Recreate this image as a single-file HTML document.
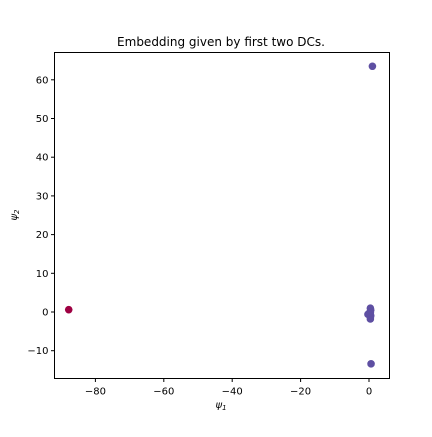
<!DOCTYPE html>
<html><head><meta charset="utf-8"><style>
body{margin:0;background:#fff;font-family:"Liberation Sans","DejaVu Sans",sans-serif}
svg text{font-family:"DejaVu Sans","Liberation Sans",sans-serif}
</style></head><body>
<svg id="chart" width="432" height="432" viewBox="0 0 432 432">
<rect width="432" height="432" fill="#fff"/>
<g id="marks"></g>
<g id="axes"></g>
<text x="221" y="46" text-anchor="middle" font-size="12">Embedding given by first two DCs.</text>
<text x="221" y="408" text-anchor="middle" font-size="10" font-style="italic">ψ<tspan font-size="7" dy="2">1</tspan></text>
<text transform="translate(17,215) rotate(-90)" text-anchor="middle" font-size="10" font-style="italic">ψ<tspan font-size="7" dy="2">2</tspan></text>
</svg>
<script>
const xs=[-87.8,1.0,0.6,0.0,0.3,0.4,0.5,-0.3,0.4,0.5,0.4];
const ys=[0.6,63.5,-13.4,-0.5,0.0,1.0,-1.0,-0.6,-1.8,0.5,-0.2];
const groups=[0,1,1,1,1,1,1,1,1,1,1];
const xTicks=[-80,-60,-40,-20,0];
const yTicks=[-10,0,10,20,30,40,50,60];
const L=54.5,R=389.5,T=52.5,B=378.5;
const X=v=>369+v*3.42, Y=v=>312-v*3.87;
const ns="http://www.w3.org/2000/svg";
const marks=document.getElementById('marks'),axes=document.getElementById('axes');
const colors=['#9e0142','#5e4fa2'];
xs.forEach((x,i)=>{const c=document.createElementNS(ns,'circle');
c.setAttribute('cx',X(x));c.setAttribute('cy',Y(ys[i]));c.setAttribute('r',3.8);c.setAttribute('fill',colors[groups[i]]);


marks.appendChild(c);});
function el(t,a){const e=document.createElementNS(ns,t);for(const k in a)e.setAttribute(k,a[k]);axes.appendChild(e);return e;}
const f=el('rect',{x:L,y:T,width:R-L,height:B-T,fill:'none',stroke:'#000','stroke-width':1});


xTicks.forEach(v=>{const x=X(v);el('line',{x1:x,x2:x,y1:B,y2:B+3.5,stroke:'#000'});
const t=el('text',{x:x,y:B+16,'text-anchor':'middle','font-size':10});t.textContent=v<0?'\u2212'+(-v):v;

});
yTicks.forEach(v=>{const y=Y(v);el('line',{x1:L-3.5,x2:L,y1:y,y2:y,stroke:'#000'});
const t=el('text',{x:L-6,y:y+3.5,'text-anchor':'end','font-size':10});t.textContent=v<0?'\u2212'+(-v):v;

});
</script>
</body></html>
